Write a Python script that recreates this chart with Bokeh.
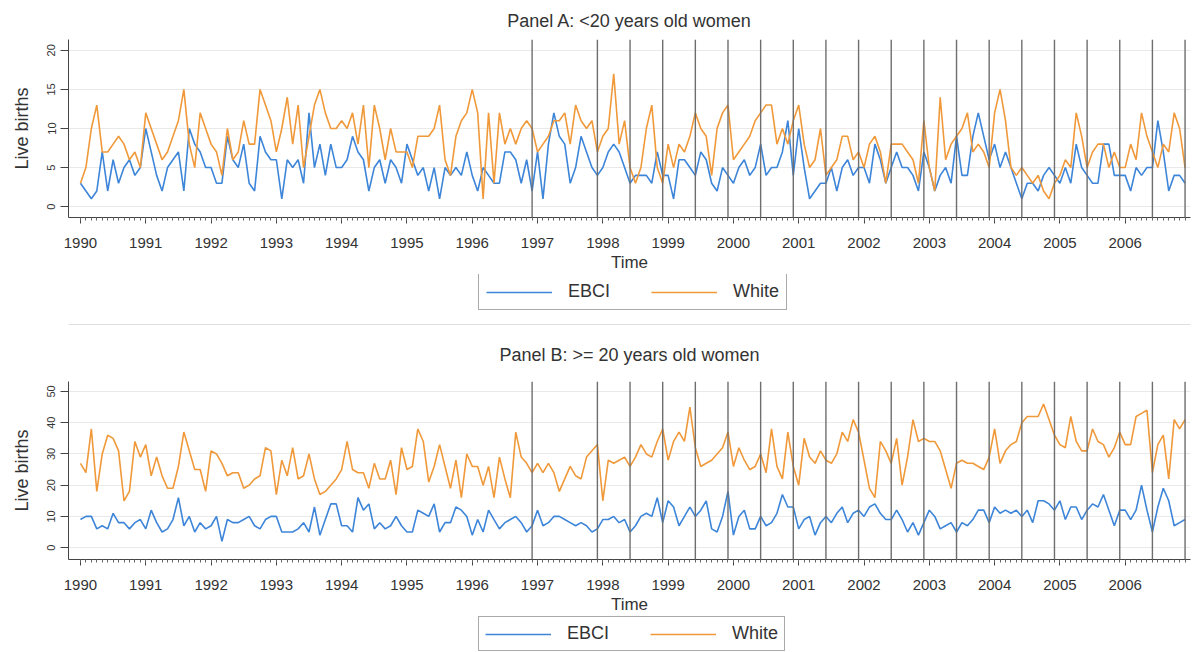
import numpy as np
from bokeh.plotting import figure
from bokeh.layouts import column
from bokeh.models import Range1d, FixedTicker, Span, Legend, LegendItem
from bokeh.embed import file_html
from bokeh.resources import INLINE

# ---------------- data (monthly live births, Jan 1990 - Dec 2006) ----------------
start_year = 1990
year_labels = [str(y) for y in range(1990, 2007)]

# Casino per-capita dividend payment dates (vertical reference lines)
dividend_dates = ["1996-12", "1997-12", "1998-06", "1998-12", "1999-06", "1999-12",
                  "2000-06", "2000-12", "2001-06", "2001-12", "2002-06", "2002-12",
                  "2003-06", "2003-12", "2004-06", "2004-12", "2005-06", "2005-12",
                  "2006-06", "2006-12"]

series_names = ["EBCI", "White"]

# Panel A: < 20 years old women
panelA_ebci = [
    3, 2, 1, 2, 7, 2, 6, 3, 5, 6, 4, 5,
    10, 7, 4, 2, 5, 6, 7, 2, 10, 8, 7, 5,
    5, 3, 3, 9, 6, 5, 8, 3, 2, 9, 7, 6,
    6, 1, 6, 5, 6, 3, 12, 5, 8, 4, 8, 5,
    5, 6, 9, 7, 6, 2, 5, 6, 3, 6, 5, 3,
    8, 6, 4, 5, 2, 5, 1, 5, 4, 5, 4, 7,
    4, 2, 5, 4, 3, 3, 7, 7, 6, 3, 6, 2,
    7, 1, 8, 12, 9, 8, 3, 5, 9, 7, 5, 4,
    5, 7, 8, 7, 5, 3, 4, 4, 4, 3, 7, 4,
    4, 1, 6, 6, 5, 4, 7, 6, 3, 2, 5, 4,
    3, 5, 6, 4, 5, 8, 4, 5, 5, 7, 11, 4,
    10, 5, 1, 2, 3, 3, 5, 2, 5, 6, 4, 5,
    5, 3, 8, 6, 3, 5, 7, 5, 5, 4, 2, 7,
    5, 2, 4, 5, 3, 9, 4, 4, 9, 12, 9, 6,
    8, 5, 7, 5, 3, 1, 3, 3, 2, 4, 5, 4,
    3, 5, 3, 8, 5, 4, 3, 3, 8, 8, 4, 4,
    4, 2, 5, 4, 5, 5, 11, 7, 2, 4, 4, 3,
]
panelA_white = [
    3, 5, 10, 13, 7, 7, 8, 9, 8, 6, 7, 5,
    12, 10, 8, 6, 7, 9, 11, 15, 8, 5, 12, 10,
    8, 7, 4, 10, 6, 7, 11, 8, 8, 15, 13, 11,
    7, 10, 14, 8, 13, 5, 9, 13, 15, 12, 10, 10,
    11, 10, 12, 8, 13, 5, 13, 10, 6, 10, 7, 7,
    7, 5, 9, 9, 9, 10, 13, 6, 4, 9, 11, 12,
    15, 12, 1, 12, 3, 12, 8, 10, 8, 10, 11, 10,
    7, 8, 9, 11, 11, 12, 8, 13, 11, 10, 11, 7,
    9, 10, 17, 8, 11, 5, 3, 5, 10, 13, 5, 3,
    8, 5, 8, 7, 9, 12, 10, 9, 4, 10, 12, 13,
    6, 7, 8, 9, 11, 12, 13, 13, 8, 10, 8, 11,
    13, 8, 5, 6, 10, 4, 5, 6, 9, 9, 6, 7,
    5, 8, 9, 7, 3, 8, 8, 8, 7, 6, 3, 11,
    5, 2, 14, 6, 8, 9, 10, 12, 7, 8, 7, 5,
    12, 15, 11, 5, 4, 5, 4, 3, 4, 2, 1, 3,
    4, 6, 5, 12, 9, 5, 7, 8, 8, 5, 7, 5,
    5, 8, 6, 12, 9, 7, 5, 8, 7, 12, 10, 5,
]

# Panel B: >= 20 years old women
panelB_ebci = [
    9, 10, 10, 6, 7, 6, 11, 8, 8, 6, 8, 9,
    6, 12, 8, 5, 6, 9, 16, 7, 10, 5, 8, 6,
    7, 10, 2, 9, 8, 8, 9, 10, 7, 6, 9, 10,
    10, 5, 5, 5, 6, 8, 5, 13, 4, 9, 14, 14,
    7, 7, 5, 16, 12, 14, 6, 8, 6, 7, 10, 7,
    5, 5, 12, 11, 10, 14, 5, 8, 8, 13, 12, 10,
    4, 9, 5, 12, 9, 6, 8, 9, 10, 8, 5, 7,
    12, 7, 8, 10, 10, 9, 8, 7, 8, 7, 5, 6,
    9, 9, 10, 8, 9, 5, 7, 10, 11, 10, 16, 8,
    15, 13, 7, 10, 13, 10, 12, 15, 6, 5, 10, 18,
    4, 10, 12, 6, 6, 10, 7, 8, 11, 17, 13, 13,
    6, 9, 10, 4, 8, 10, 8, 11, 13, 8, 11, 12,
    10, 13, 14, 11, 9, 9, 12, 9, 5, 8, 4, 8,
    12, 10, 6, 7, 8, 5, 8, 7, 9, 12, 12, 8,
    13, 11, 12, 11, 12, 10, 12, 8, 15, 15, 14, 12,
    15, 9, 13, 13, 9, 12, 14, 13, 17, 12, 7, 12,
    12, 9, 12, 20, 12, 5, 13, 19, 15, 7, 8, 9,
]
panelB_white = [
    27, 24, 38, 18, 30, 36, 35, 31, 15, 18, 34, 29,
    33, 23, 29, 23, 19, 19, 26, 37, 31, 25, 25, 18,
    31, 30, 27, 23, 24, 24, 19, 20, 22, 23, 32, 31,
    17, 28, 23, 32, 22, 23, 30, 22, 17, 18, 20, 22,
    25, 34, 25, 24, 24, 19, 27, 22, 22, 28, 17, 32,
    25, 26, 38, 34, 21, 26, 33, 26, 19, 28, 16, 30,
    26, 26, 20, 26, 16, 29, 22, 16, 37, 29, 27, 24,
    27, 24, 27, 24, 18, 22, 26, 23, 22, 29, 31, 33,
    15, 28, 27, 28, 29, 26, 29, 33, 30, 29, 34, 38,
    28, 34, 37, 34, 45, 32, 26, 27, 28, 30, 32, 37,
    26, 32, 28, 25, 26, 30, 24, 38, 26, 22, 37, 26,
    20, 35, 29, 27, 31, 28, 27, 30, 37, 34, 41, 37,
    28, 19, 16, 34, 31, 27, 35, 20, 29, 41, 34, 35,
    34, 34, 31, 25, 19, 27, 28, 27, 27, 26, 25, 29,
    38, 27, 31, 33, 34, 40, 42, 42, 42, 46, 41, 36,
    33, 32, 42, 34, 31, 31, 38, 34, 33, 29, 32, 37,
    33, 33, 42, 43, 44, 24, 33, 36, 22, 41, 38, 41,
]

panelA_yticks = [0, 5, 10, 15, 20]
panelB_yticks = [0, 10, 20, 30, 40, 50]

# ---------------- styling ----------------
FONT = "Liberation Sans"
EBCI_COLOR = "#3d85d8"
WHITE_COLOR = "#f0993a"
TEXT_COLOR = "#333333"
WIDTH = 1199
BORDER_L = 68
BORDER_R = 9


def month_index(s):
    y, m = s.split("-")
    return (int(y) - start_year) * 12 + int(m) - 1


def make_panel(title, ebci, white, yticks, y_lo, y_hi, height, top, bottom, title_standoff):
    p = figure(width=WIDTH, height=height, output_backend="svg", toolbar_location=None,
               x_range=Range1d(-2.2, 204.0), y_range=Range1d(y_lo, y_hi),
               min_border_left=BORDER_L, min_border_right=BORDER_R, min_border_top=top,
               min_border_bottom=bottom)
    p.outline_line_color = None
    p.background_fill_color = "white"
    p.border_fill_color = "white"

    p.title.text = title
    p.title.align = "center"
    p.title.offset = 4
    p.title.text_font = FONT
    p.title.text_font_size = "18px"
    p.title.text_font_style = "normal"
    p.title.text_color = TEXT_COLOR
    p.title.standoff = title_standoff

    months = list(range(len(ebci)))
    p.line(months, ebci, line_color=EBCI_COLOR, line_width=1.6)
    p.line(months, white, line_color=WHITE_COLOR, line_width=1.6)

    for d in dividend_dates:
        p.add_layout(Span(location=month_index(d), dimension="height",
                          line_color="#6e6e6e", line_width=1.4))

    # x axis
    xa = p.xaxis[0]
    xa.ticker = FixedTicker(ticks=[12 * i for i in range(len(year_labels))],
                            minor_ticks=list(range(0, 12 * len(year_labels))))
    xa.major_label_overrides = {12 * i: lab for i, lab in enumerate(year_labels)}
    xa.axis_label = "Time"
    xa.axis_label_text_font = FONT
    xa.axis_label_text_font_size = "17px"
    xa.axis_label_text_font_style = "normal"
    xa.axis_label_text_color = TEXT_COLOR
    xa.axis_label_standoff = 2
    xa.major_label_text_font = FONT
    xa.major_label_text_font_size = "15px"
    xa.major_label_text_color = TEXT_COLOR
    xa.major_label_standoff = 14
    xa.major_tick_out = 6
    xa.major_tick_in = 0
    xa.minor_tick_out = 3
    xa.minor_tick_in = 0
    xa.axis_line_color = "#444444"
    xa.major_tick_line_color = "#444444"
    xa.minor_tick_line_color = "#666666"

    # y axis
    ya = p.yaxis[0]
    ya.ticker = FixedTicker(ticks=yticks)
    ya.axis_label = "Live births"
    ya.axis_label_text_font = FONT
    ya.axis_label_text_font_size = "18px"
    ya.axis_label_text_font_style = "normal"
    ya.axis_label_text_color = TEXT_COLOR
    ya.axis_label_standoff = 13
    ya.major_label_text_font = FONT
    ya.major_label_text_font_size = "11px"
    ya.major_label_text_color = TEXT_COLOR
    ya.major_label_orientation = "parallel"
    ya.major_label_standoff = 5
    ya.major_tick_out = 8
    ya.major_tick_in = 0
    ya.minor_tick_line_color = None
    ya.axis_line_color = "#444444"
    ya.major_tick_line_color = "#444444"

    p.xgrid.grid_line_color = None
    p.ygrid.ticker = FixedTicker(ticks=yticks)
    p.ygrid.grid_line_color = "#e9e9e9"
    p.ygrid.grid_line_width = 1
    return p


def make_legend_fig(height, loc, padding, separator=False):
    lf = figure(width=WIDTH, height=height, output_backend="svg", toolbar_location=None,
                x_range=Range1d(0, 1), y_range=Range1d(0, height),
                x_axis_location=None, y_axis_location=None,
                min_border_left=BORDER_L, min_border_right=BORDER_R,
                min_border_top=0, min_border_bottom=0)
    lf.grid.visible = False
    lf.outline_line_color = None
    lf.border_fill_color = "white"
    if separator:
        # thin rule between the two panels (graph-region border)
        lf.add_layout(Span(location=1, dimension="width",
                           line_color="#dedede", line_width=1))
    # legend-only glyphs (no visible data)
    l1 = lf.line(np.array([np.nan, np.nan]), np.array([np.nan, np.nan]),
                 line_color=EBCI_COLOR, line_width=1.6)
    l2 = lf.line(np.array([np.nan, np.nan]), np.array([np.nan, np.nan]),
                 line_color=WHITE_COLOR, line_width=1.6)
    legend = Legend(items=[LegendItem(label=series_names[0], renderers=[l1]),
                           LegendItem(label=series_names[1], renderers=[l2])],
                    orientation="horizontal", location=loc)
    legend.label_text_font = FONT
    legend.label_text_font_size = "18px"
    legend.label_text_color = TEXT_COLOR
    legend.glyph_width = 66
    legend.glyph_height = 20
    legend.label_standoff = 16
    legend.spacing = 41
    legend.padding = padding
    legend.margin = 0
    legend.border_line_color = "#555555"
    legend.border_line_width = 1
    legend.background_fill_color = "white"
    lf.add_layout(legend, "center")
    return lf


pA = make_panel("Panel A: <20 years old women", panelA_ebci, panelA_white,
                panelA_yticks, -1.39, 21.39, 274, 38, 56, 17)
legA = make_legend_fig(51, (410, 15), 7, separator=True)
pB = make_panel("Panel B: >= 20 years old women", panelB_ebci, panelB_white,
                panelB_yticks, -3.8, 53.2, 291, 55, 56, 34)
legB = make_legend_fig(36, (410, 1), 6)

layout = column(pA, legA, pB, legB)
open("out.html", "w").write(file_html(layout, INLINE))
